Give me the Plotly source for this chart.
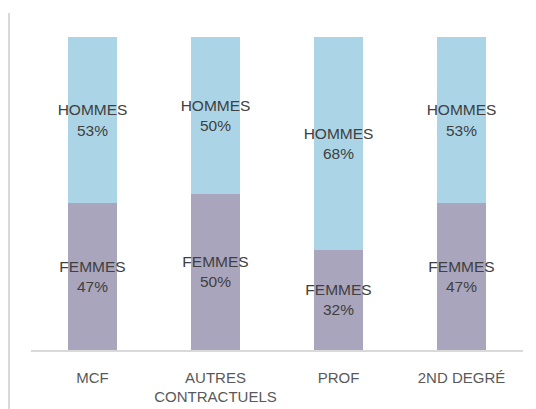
import plotly.graph_objects as go

categories = ["MCF", "AUTRES<br>CONTRACTUELS", "PROF", "2ND DEGRÉ"]
femmes = [47, 50, 32, 47]
hommes = [53, 50, 68, 53]
series_names = ["FEMMES", "HOMMES"]
series_values = [femmes, hommes]
series_colors = ["#A9A5BC", "#ABD5E6"]

fig = go.Figure()
for name, vals, col in zip(series_names, series_values, series_colors):
    fig.add_trace(go.Bar(
        x=categories, y=vals, name=name,
        marker=dict(color=col, line=dict(width=0)),
        text=[f"{name}<br>{v}%" for v in vals],
        textposition="inside", insidetextanchor="middle",
        constraintext="none", textangle=0,
        textfont=dict(family="Liberation Sans, Arial, sans-serif", size=15.5, color="#404040"),
        hoverinfo="skip",
    ))

fig.update_layout(
    barmode="stack", bargap=0.6,
    width=536, height=409,
    margin=dict(l=23, r=21, t=29, b=67, autoexpand=False),
    paper_bgcolor="white", plot_bgcolor="white",
    showlegend=False,
    font=dict(family="Liberation Sans, Arial, sans-serif", color="#595959"),
    xaxis=dict(showline=True, linecolor="#D9D9D9", linewidth=1.5, automargin=False,
               ticks="", showgrid=False, zeroline=False, ticklabelstandoff=13,
               tickfont=dict(size=15, color="#595959")),
    yaxis=dict(range=[0, 100], visible=False, showgrid=False, zeroline=False, automargin=False),
    shapes=[dict(type="line", xref="paper", yref="paper",
                 x0=-0.0447, x1=-0.0447, y0=1.077, y1=-0.25,
                 line=dict(color="#D9D9D9", width=2))],
)

fig.write_html("out.html")
